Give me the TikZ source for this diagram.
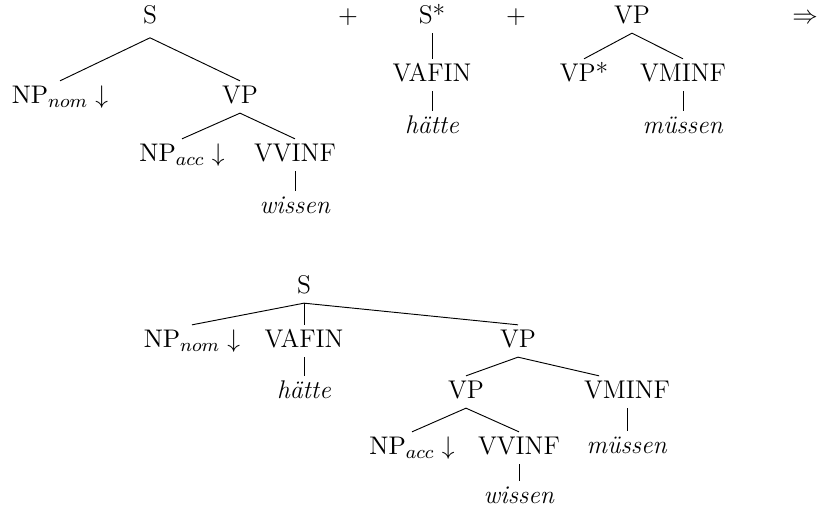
\documentclass[tikz,border=0pt]{standalone}
\begin{document}
\begin{tikzpicture}[x=0.43pt,y=-0.43pt,
  tn/.style={font=\fontsize{11pt}{13pt}\selectfont,inner xsep=1pt,inner ysep=1.8pt,text height=7.7pt,text depth=2.2pt},
  edge/.style={draw,line width=0.4pt}]
\useasboundingbox (0,0) rectangle (818,506);
% first elementary tree
\node[tn] (s1) at (150,17) {S};
\node[tn] (np1) at (60,97) {$\mathrm{NP}_{nom}\downarrow$};
\node[tn] (vp1) at (240,97) {VP};
\node[tn] (npa1) at (182,155) {$\mathrm{NP}_{acc}\downarrow$};
\node[tn] (vv1) at (295,155) {VVINF};
\node[tn] (w1) at (295,207) {\textit{wissen}};
\draw[edge] ([yshift=-2pt]s1.south) -- (np1.north);
\draw[edge] ([yshift=-2pt]s1.south) -- (vp1.north);
\draw[edge] (vp1.south) -- (npa1.north);
\draw[edge] (vp1.south) -- (vv1.north);
\draw[edge] (vv1.south) -- (w1.north);
% plus signs
\node[tn] (plus1) at (348,17) {$+$};
\node[tn] (plus2) at (516,17) {$+$};
% second tree
\node[tn] (ss) at (432,17) {S*};
\node[tn] (vaf) at (432,75) {VAFIN};
\node[tn] (h1) at (432,127) {\textit{hätte}};
\draw[edge] (ss.south) -- (vaf.north);
\draw[edge] (vaf.south) -- (h1.north);
% third tree
\node[tn] (vp3) at (632,17) {VP};
\node[tn] (vps) at (584,75) {VP*};
\node[tn] (vmi) at (683,75) {VMINF};
\node[tn] (m1) at (683,127) {\textit{müssen}};
\draw[edge] (vp3.south) -- (vps.north);
\draw[edge] (vp3.south) -- (vmi.north);
\draw[edge] (vmi.south) -- (m1.north);
% arrow
\node[tn] (arr) at (805,17) {$\Rightarrow$};
% derived tree
\node[tn] (s2) at (304,287) {S};
\node[tn] (np2) at (192,341) {$\mathrm{NP}_{nom}\downarrow$};
\node[tn] (vaf2) at (304,341) {VAFIN};
\node[tn] (h2) at (304,392) {\textit{hätte}};
\node[tn] (vp4) at (518,341) {VP};
\node[tn] (vp5) at (466,392) {VP};
\node[tn] (vmi2) at (627,392) {VMINF};
\node[tn] (m2) at (627,447) {\textit{müssen}};
\node[tn] (npa2) at (412,448) {$\mathrm{NP}_{acc}\downarrow$};
\node[tn] (vv2) at (519,448) {VVINF};
\node[tn] (w2) at (519,497) {\textit{wissen}};
\draw[edge] (s2.south) -- (np2.north);
\draw[edge] (s2.south) -- (vaf2.north);
\draw[edge] (s2.south) -- (vp4.north);
\draw[edge] (vaf2.south) -- (h2.north);
\draw[edge] (vp4.south) -- (vp5.north);
\draw[edge] (vp4.south) -- ([xshift=-12pt]vmi2.north);
\draw[edge] (vmi2.south) -- (m2.north);
\draw[edge] (vp5.south) -- (npa2.north);
\draw[edge] (vp5.south) -- (vv2.north);
\draw[edge] (vv2.south) -- (w2.north);
\end{tikzpicture}
\end{document}
